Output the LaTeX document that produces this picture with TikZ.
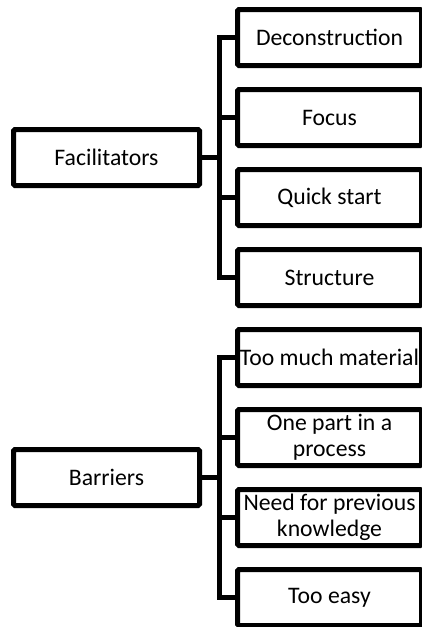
\documentclass[tikz,border=0pt]{standalone}
\usepackage{fontspec}
\setmainfont{Carlito}
\begin{document}
\begin{tikzpicture}[x=1pt,y=-1pt,
  box/.style={draw=black, line width=5pt, rounded corners=1.5pt, fill=white,
    minimum height=56pt, inner sep=0pt, align=center,
    font=\fontsize{23.7}{26.5}\selectfont},
  parent/.style={box, minimum width=186pt},
  child/.style={box, minimum width=184pt},
  link/.style={draw=black, line width=5pt}]
\useasboundingbox (0,0) rectangle (422,627);
\clip (0,0) rectangle (422,627);

% upper tree
\node[parent] (fac) at (106.5,157.5) {Facilitators};
\node[child] (c1) at (329.5,37.5) {Deconstruction};
\node[child] (c2) at (329.5,117.5) {Focus};
\node[child] (c3) at (329.5,197.5) {Quick start};
\node[child] (c4) at (329.5,277.5) {Structure};

% lower tree
\node[parent] (bar) at (106.5,477.5) {Barriers};
\node[child] (b1) at (329.5,357.5) {Too much material};
\node[child] (b2) at (329.5,437.5) {One part in a\\process};
\node[child] (b3) at (329.5,517.5) {Need for previous\\knowledge};
\node[child] (b4) at (329.5,597.5) {Too easy};

% bracket connectors
\foreach \c in {c1,c2,c3,c4}
  \draw[link] (fac.east) -- ++(17.5,0) |- (\c.west);
\foreach \c in {b1,b2,b3,b4}
  \draw[link] (bar.east) -- ++(17.5,0) |- (\c.west);
\end{tikzpicture}
\end{document}
